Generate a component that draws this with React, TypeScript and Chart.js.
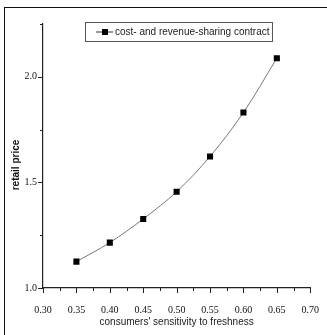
import React, { useEffect, useRef } from 'react';
import { Chart, registerables } from 'chart.js';

Chart.register(...registerables);

// ---- data ----
const sensitivity = [0.35, 0.4, 0.45, 0.5, 0.55, 0.6, 0.65];
const retailPrice = [1.125, 1.215, 1.327, 1.456, 1.623, 1.831, 2.088];
const seriesLabel = 'cost- and revenue-sharing contract';
const xTitle = "consumers' sensitivity to freshness";
const yTitle = 'retail price';
const xBounds = [0.3, 0.7];
const yBounds = [1.0, 2.25];
const yLabels = ['1.0', '1.5', '2.0'];
const xMinorStep = 0.025;
const xMajorStep = 0.05;
const yMinorStep = 0.25;
const yMajorStep = 0.5;

const isMultiple = (v: number, step: number) => {
  const r = v / step;
  return Math.abs(r - Math.round(r)) < 1e-6;
};

const decorPlugin = {
  id: 'decor',
  afterDraw(chart: any) {
    const { ctx, chartArea: ca, scales } = chart;
    const xs = scales.x;
    const ys = scales.y;
    ctx.save();
    ctx.strokeStyle = '#222';
    ctx.lineWidth = 1;
    // tick marks
    xs.ticks.forEach((t: any) => {
      const px = Math.round(xs.getPixelForValue(t.value)) + 0.5;
      const major = isMultiple(t.value, xMajorStep);
      ctx.beginPath();
      ctx.moveTo(px, ca.bottom);
      ctx.lineTo(px, ca.bottom + (major ? 5 : 3));
      ctx.stroke();
    });
    ys.ticks.forEach((t: any) => {
      const py = Math.round(ys.getPixelForValue(t.value)) + 0.5;
      const major = isMultiple(t.value, yMajorStep);
      ctx.beginPath();
      ctx.moveTo(ca.left, py);
      ctx.lineTo(ca.left - (major ? 5 : 3), py);
      ctx.stroke();
    });

    // y tick labels
    ctx.fillStyle = '#111';
    ctx.font = '10px "Liberation Serif", "DejaVu Serif", serif';
    ctx.textAlign = 'right';
    ctx.textBaseline = 'middle';
    yLabels.forEach((lab) => {
      const py = ys.getPixelForValue(parseFloat(lab));
      ctx.fillText(lab, ca.left - 6, py);
    });

    // axis titles
    ctx.fillStyle = '#222';
    ctx.textAlign = 'center';
    ctx.textBaseline = 'middle';
    ctx.font = '10px "Liberation Sans", Arial, sans-serif';
    ctx.fillText(xTitle, (ca.left + ca.right) / 2, ca.bottom + 34);
    ctx.save();
    ctx.translate(ca.left - 27, (ca.top + ca.bottom) / 2 + 9);
    ctx.rotate(-Math.PI / 2);
    ctx.fillStyle = '#111';
    ctx.font = 'bold 10px "Liberation Sans", Arial, sans-serif';
    ctx.fillText(yTitle, 0, 0);
    ctx.restore();

    // legend
    const label = chart.data.datasets[0].label;
    const bx = ca.left + 42;
    const by = ca.top - 2;
    const bw = 187;
    const bh = 19;
    ctx.strokeStyle = '#555';
    ctx.lineWidth = 1;
    ctx.strokeRect(bx + 0.5, by + 0.5, bw, bh);
    const cy = by + bh / 2 + 0.5;
    ctx.strokeStyle = '#333';
    ctx.beginPath();
    ctx.moveTo(bx + 11, cy);
    ctx.lineTo(bx + 28, cy);
    ctx.stroke();
    ctx.fillStyle = '#000';
    ctx.fillRect(bx + 17, cy - 3, 6, 6);
    ctx.fillStyle = '#222';
    ctx.textAlign = 'left';
    ctx.font = '10px "Liberation Sans", Arial, sans-serif';
    ctx.fillText(label, bx + 30, cy);
    ctx.restore();
  },
};

export default function App() {
  const ref = useRef<HTMLCanvasElement | null>(null);

  useEffect(() => {
    if (!ref.current) return;
    const chart = new Chart(ref.current, {
      type: 'line',
      data: {
        datasets: [
          {
            label: seriesLabel,
            data: sensitivity.map((x, i) => ({ x, y: retailPrice[i] })),
            borderColor: '#777',
            borderWidth: 1,
            tension: 0.35,
            pointStyle: 'rect',
            pointRadius: 4.3,
            pointBorderWidth: 0,
            pointBackgroundColor: '#000',
            pointBorderColor: '#000',
            fill: false,
          },
        ],
      },
      options: {
        responsive: false,
        animation: false,
        devicePixelRatio: 1,
        layout: { padding: { top: 24, right: 12, left: 0, bottom: 0 } },
        plugins: {
          legend: { display: false },
          tooltip: { enabled: false },
        },
        scales: {
          x: {
            type: 'linear',
            min: xBounds[0],
            max: xBounds[1],
            afterFit: (s: any) => {
              s.height = 47;
            },
            grid: { display: false },
            border: { display: true, color: '#222', width: 1.2 },
            ticks: {
              stepSize: xMinorStep,
              autoSkip: false,
              maxRotation: 0,
              padding: 8,
              color: '#111',
              font: { family: '"Liberation Serif", "DejaVu Serif", serif', size: 10 },
              callback: (v: any) => (isMultiple(Number(v), xMajorStep) ? Number(v).toFixed(2) : ''),
            },
          },
          y: {
            type: 'linear',
            min: yBounds[0],
            max: yBounds[1],
            afterFit: (s: any) => {
              s.width = 43;
            },
            grid: { display: false },
            border: { display: true, color: '#222', width: 1.2 },
            ticks: {
              stepSize: yMinorStep,
              autoSkip: false,
              display: true,
              color: 'rgba(0,0,0,0)',
              font: { family: '"Liberation Serif", "DejaVu Serif", serif', size: 10 },
              callback: () => '',
            },
          },
        },
      },
      plugins: [decorPlugin],
    });
    return () => chart.destroy();
  }, []);

  return (
    <div style={{ position: 'fixed', left: 0, top: 0, width: 327, height: 335, background: '#fff', overflow: 'hidden' }}>
      <canvas ref={ref} width={327} height={335} style={{ display: 'block' }} />
      <div
        style={{
          position: 'absolute',
          left: 4,
          top: 7,
          right: 0,
          bottom: 0,
          borderLeft: '1.5px solid #111',
          borderTop: '1.5px solid #111',
          pointerEvents: 'none',
        }}
      />
    </div>
  );
}
